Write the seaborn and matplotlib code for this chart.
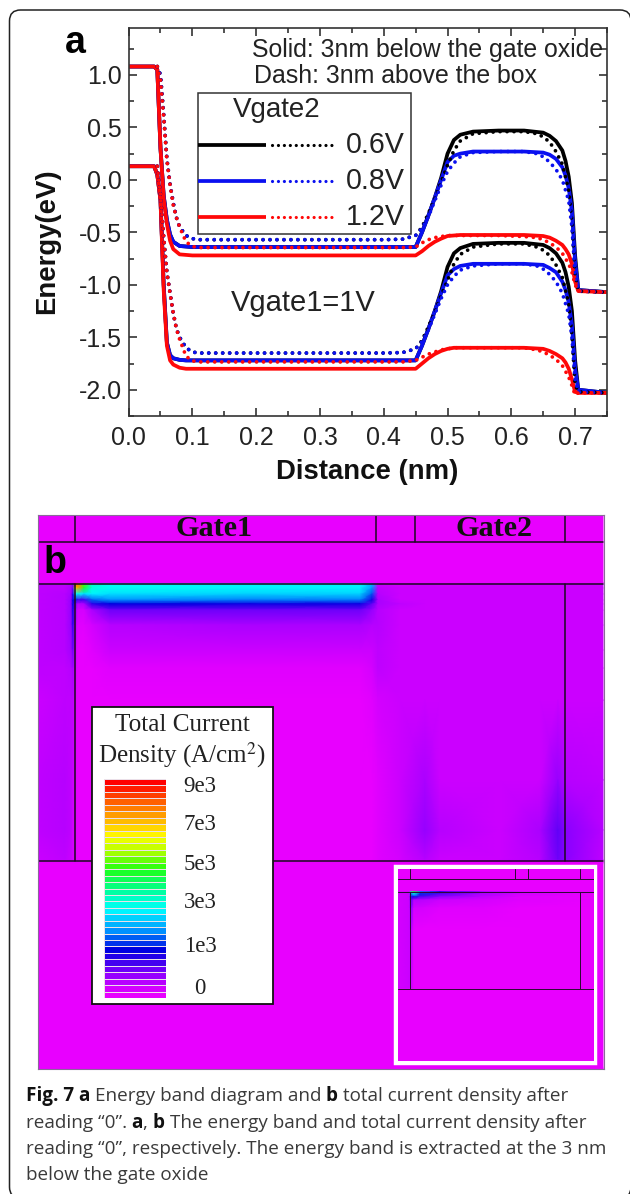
"""
plot.py - Energy band diagram and total current density (Fig. 7).
"""
import numpy as np
import matplotlib
matplotlib.use("Agg")
import matplotlib.pyplot as plt
from matplotlib.colors import LinearSegmentedColormap
from matplotlib.patches import FancyBboxPatch, Rectangle
from matplotlib.ticker import MultipleLocator
import seaborn as sns

W, H = 630, 1194

# panel a, solid curves
X_SOLID = [0, .04, .045, .05, .055, .06, .065, .07, .08, .09, .10, .2, .3, .4, .45, .46, .47, .48, .49, .50,
           .51, .52, .54, .58, .62, .65, .66, .67, .68, .685, .69, .695, .70, .705, .75]
UP_BLACK = [1.08, 1.08, 1.05, .3, -.15, -.38, -.52, -.59, -.63, -.635, -.64, -.64, -.64, -.64, -.64, -.5, -.34, -.17, .02, .25,
            .38, .43, .46, .47, .47, .45, .42, .37, .28, .18, .03, -.22, -.72, -1.05, -1.07]
UP_BLUE = [1.08, 1.08, 1.05, .3, -.15, -.38, -.52, -.59, -.63, -.635, -.64, -.64, -.64, -.64, -.64, -.5, -.34, -.17, 0, .17,
           .23, .25, .27, .27, .27, .26, .24, .2, .12, .04, -.08, -.3, -.78, -1.05, -1.07]
UP_RED = [1.08, 1.08, 1.05, .3, -.18, -.42, -.58, -.66, -.71, -.715, -.72, -.72, -.72, -.72, -.72, -.68, -.63, -.59, -.56, -.535,
          -.53, -.525, -.525, -.525, -.525, -.535, -.55, -.58, -.62, -.66, -.71, -.8, -.97, -1.06, -1.07]
LOW_BLACK = [.13, .13, .05, -.19, -1.0, -1.55, -1.67, -1.7, -1.715, -1.72, -1.72, -1.72, -1.72, -1.72, -1.72, -1.58, -1.42, -1.25, -1.06, -.83,
             -.7, -.65, -.61, -.6, -.6, -.62, -.65, -.7, -.79, -.88, -1.02, -1.25, -1.72, -2.0, -2.03]
LOW_BLUE = [.13, .13, .05, -.19, -1.0, -1.55, -1.67, -1.7, -1.715, -1.72, -1.72, -1.72, -1.72, -1.72, -1.72, -1.58, -1.42, -1.25, -1.08, -.91,
            -.85, -.82, -.8, -.8, -.8, -.81, -.84, -.88, -.97, -1.05, -1.17, -1.38, -1.8, -2.0, -2.03]
LOW_RED = [.13, .13, .05, -.2, -1.05, -1.58, -1.72, -1.76, -1.79, -1.8, -1.8, -1.8, -1.8, -1.8, -1.8, -1.75, -1.7, -1.66, -1.63, -1.61,
           -1.6, -1.6, -1.6, -1.6, -1.6, -1.61, -1.63, -1.66, -1.7, -1.74, -1.8, -1.9, -2.02, -2.03, -2.03]

# panel a, dotted curves
X_DOT = [.045, .05, .055, .06, .065, .07, .075, .08, .09, .10, .11, .2, .3, .4, .43, .45, .46, .47, .48, .49, .50,
         .51, .52, .54, .58, .62, .64, .65, .66, .67, .68, .69, .695, .70, .705, .75]
UP_BLACK_D = [1.08, 1.0, .62, .2, -.04, -.22, -.36, -.45, -.53, -.56, -.57, -.57, -.57, -.57, -.565, -.53, -.45, -.32, -.18, -.02, .14,
              .28, .37, .44, .46, .46, .44, .41, .36, .27, .15, -.1, -.4, -.9, -1.06, -1.07]
UP_BLUE_D = [1.08, 1.0, .62, .2, -.04, -.22, -.36, -.45, -.53, -.56, -.57, -.57, -.57, -.57, -.565, -.53, -.46, -.35, -.2, -.05, .08,
             .16, .22, .26, .27, .27, .25, .22, .17, .1, 0, -.2, -.45, -.9, -1.06, -1.07]
UP_RED_D = [1.08, .95, .6, .19, -.05, -.24, -.36, -.45, -.59, -.635, -.645, -.645, -.645, -.645, -.645, -.64, -.6, -.57, -.55, -.54, -.53,
            -.53, -.53, -.53, -.53, -.54, -.55, -.57, -.6, -.64, -.7, -.8, -.88, -1.0, -1.06, -1.07]
LOW_BLACK_D = [.13, -.15, -.55, -.88, -1.08, -1.27, -1.42, -1.5, -1.6, -1.64, -1.65, -1.65, -1.65, -1.65, -1.645, -1.61, -1.53, -1.4, -1.26, -1.1, -.96,
               -.8, -.71, -.64, -.61, -.61, -.64, -.67, -.72, -.81, -.93, -1.18, -1.48, -1.95, -2.02, -2.03]
LOW_BLUE_D = [.13, -.15, -.55, -.88, -1.08, -1.27, -1.42, -1.5, -1.6, -1.64, -1.65, -1.65, -1.65, -1.65, -1.645, -1.61, -1.54, -1.43, -1.28, -1.13, -1.0,
              -.92, -.86, -.82, -.8, -.8, -.82, -.85, -.9, -.97, -1.08, -1.28, -1.5, -1.9, -2.02, -2.03]
LOW_RED_D = [.13, -.15, -.55, -.88, -1.08, -1.27, -1.42, -1.52, -1.68, -1.725, -1.735, -1.735, -1.735, -1.735, -1.735, -1.72, -1.69, -1.66, -1.64, -1.62, -1.61,
             -1.6, -1.6, -1.6, -1.6, -1.6, -1.62, -1.64, -1.67, -1.71, -1.77, -1.88, -1.96, -2.05, -2.03, -2.03]

X_TICKS = [0, .1, .2, .3, .4, .5, .6, .7]
Y_TICKS = [-2, -1.5, -1, -.5, 0, .5, 1]
LEGEND_VOLTS = ["0.6V", "0.8V", "1.2V"]

# panel b, field on image-pixel grid, level 0-100 of the colour scale
FIELD_X = [38, 65, 71, 73, 75, 78, 84, 92, 110, 250, 360, 372, 378, 400, 425, 440, 500, 540, 558, 566, 603]
FIELD_Y = [515, 583, 584, 588, 594, 600, 604, 610, 625, 650, 668, 700, 780, 830, 860, 862, 1069]
FIELD = [
    [0, 0, 0, 0, 0, 0, 0, 0, 0, 0, 0, 0, 0, 0, 0, 0, 0, 0, 0, 0, 0],
    [0, 0, 0, 0, 0, 0, 0, 0, 0, 0, 0, 0, 0, 0, 0, 0, 0, 0, 0, 0, 0],
    [4, 4, 5, 10, 92, 88, 62, 46, 42, 40, 40, 34, 3, 2, 3, 2, 3, 3, 3, 3, 3],
    [4, 4, 6, 12, 70, 85, 58, 44, 42, 40, 40, 32, 4, 3, 3, 3, 3, 3, 3, 3, 3],
    [4, 5, 7, 18, 40, 42, 38, 40, 38, 37, 37, 27, 5, 3, 3, 3, 3, 3, 3, 3, 3],
    [4, 5, 8, 22, 24, 16, 16, 28, 31, 30, 30, 20, 6, 3, 3, 3, 3, 3, 3, 3, 3],
    [4, 5, 8, 22, 12, 5, 6, 18, 22, 21, 21, 13, 6, 4, 3, 3, 3, 3, 3, 3, 3],
    [4, 5, 8, 20, 8, 2, 2, 6, 12, 12, 12, 8, 5, 3, 3, 3, 3, 3, 3, 3, 3],
    [4, 5, 8, 18, 5, 1, 1, 2, 5, 6, 6, 5, 5, 3, 3, 3, 3, 3, 3, 3, 3],
    [4, 5, 7, 12, 3, 0, 0, 1, 3, 3, 3, 3, 4, 3, 3, 3, 3, 3, 3, 3, 3],
    [4, 4, 5, 7, 2, 0, 0, 0, 1, 1, 1, 2, 4, 3, 3, 3, 3, 3, 3, 3, 3],
    [3, 4, 4, 4, 1, 0, 0, 0, 0, 0, 0, 1, 2, 3, 3, 3, 3, 3, 3, 3, 3],
    [4, 5, 4, 3, 1, 0, 0, 0, 0, 0, 0, 0, 1, 3, 6, 3, 3, 3, 8, 5, 4],
    [4, 5, 4, 2, 1, 0, 0, 0, 0, 0, 0, 0, 1, 3, 8, 5, 3, 6, 13, 9, 5],
    [3, 4, 3, 2, 1, 0, 0, 0, 0, 0, 0, 0, 1, 2, 5, 3, 3, 5, 12, 9, 4],
    [0, 0, 0, 0, 0, 0, 0, 0, 0, 0, 0, 0, 0, 0, 0, 0, 0, 0, 0, 0, 0],
    [0, 0, 0, 0, 0, 0, 0, 0, 0, 0, 0, 0, 0, 0, 0, 0, 0, 0, 0, 0, 0],
]
INSET_X = [398, 409, 411, 414, 420, 440, 480, 520, 594]
INSET_Y = [869, 891, 892, 894, 897, 900, 908, 930, 988, 990, 1061]
INSET = [
    [0, 0, 0, 0, 0, 0, 0, 0, 0],
    [0, 0, 0, 0, 0, 0, 0, 0, 0],
    [2, 3, 50, 60, 30, 20, 8, 2, 0],
    [2, 3, 30, 40, 24, 14, 6, 2, 0],
    [2, 3, 18, 20, 14, 8, 4, 1, 0],
    [2, 3, 14, 5, 5, 3, 2, 1, 0],
    [2, 3, 10, 2, 2, 1, 1, 0, 0],
    [2, 3, 5, 0, 0, 0, 0, 0, 0],
    [2, 3, 3, 0, 0, 0, 0, 0, 0],
    [0, 0, 0, 0, 0, 0, 0, 0, 0],
    [0, 0, 0, 0, 0, 0, 0, 0, 0],
]

LEVELS = [100, 97, 94, 91, 88, 85, 82, 79, 76, 73, 70, 67, 64, 61, 58, 55, 52, 49, 46, 43, 40, 37, 34, 31, 28, 25, 22, 19, 16, 12, 8, 5, 2, 0]
BAR_LABELS = ["9e3", "7e3", "5e3", "3e3", "1e3", "0"]
BAR_LABEL_Y = [787, 825, 864, 902, 946, 989]

CAPTION = [
    [("Fig. 7 a ", True), ("Energy band diagram and ", False), ("b ", True), ("total current density after", False)],
    [("reading \u201c0\u201d. ", False), ("a", True), (", ", False), ("b ", True), ("The energy band and total current density after", False)],
    [("reading \u201c0\u201d, respectively. The energy band is extracted at the 3 nm", False)],
    [("below the gate oxide", False)],
]
CAPTION_Y = [1101, 1127.5, 1154, 1180.5]
CAPTION_SIZE = 13.6

sns.set_theme(style="ticks")
plt.rcParams["font.family"] = ["Liberation Sans", "DejaVu Sans"]
plt.rcParams["axes.unicode_minus"] = False

cmap = LinearSegmentedColormap.from_list("tcd", [
    (0, "#e800ff"), (.1, "#8000ff"), (.22, "#0000e0"), (.31, "#0090ff"), (.41, "#00ffff"), (.5, "#00ff99"),
    (.6, "#20ff10"), (.68, "#b0ff00"), (.75, "#ffff00"), (.88, "#ff8000"), (1, "#ff0000")])


def px_axes(fig, left, top, right, bottom, **kw):
    return fig.add_axes([left / W, 1 - bottom / H, (right - left) / W, (bottom - top) / H], **kw)


fig = plt.figure(figsize=(W / 100, H / 100), dpi=100, facecolor="white")

# overlay in image pixels, for texts and frames
ov = px_axes(fig, 0, 0, W, H, zorder=2)
ov.set_xlim(0, W)
ov.set_ylim(H, 0)
ov.axis("off")
ov.patch.set_alpha(0)

back = px_axes(fig, 0, 0, W, H, zorder=0)
back.set_xlim(0, W)
back.set_ylim(H, 0)
back.axis("off")
back.add_patch(FancyBboxPatch((9.5, 10), 621.5, 1188, boxstyle="round,pad=0,rounding_size=11", fc="white", ec="#222222", lw=1.1))

# panel a
ax = px_axes(fig, 128.6, 27.7, 607, 416, zorder=1)
curves = [(UP_BLACK, LOW_BLACK, UP_BLACK_D, LOW_BLACK_D, "#000000"),
          (UP_BLUE, LOW_BLUE, UP_BLUE_D, LOW_BLUE_D, "#0a10f0"),
          (UP_RED, LOW_RED, UP_RED_D, LOW_RED_D, "#ff0808")]
dots = (0, (0.01, 1.85))
for up, low, _, _, col in curves:
    for ys in (up, low):
        sns.lineplot(x=X_SOLID, y=ys, color=col, linewidth=2.7, sort=False, estimator=None, ax=ax)
for _, _, up_d, low_d, col in curves:
    for ys in (up_d, low_d):
        sns.lineplot(x=X_DOT, y=ys, color=col, linewidth=2.7, linestyle=dots, dash_capstyle="round",
                     sort=False, estimator=None, ax=ax)
ax.set_xlim(0, .75)
ax.set_ylim(-2.25, 1.45)
ax.set_xticks(X_TICKS)
ax.set_yticks(Y_TICKS)
ax.set_xticklabels([f"{v:.1f}" for v in X_TICKS])
ax.set_yticklabels([f"{v:.1f}" for v in Y_TICKS])
ax.xaxis.set_minor_locator(MultipleLocator(.05))
ax.yaxis.set_minor_locator(MultipleLocator(.25))
ax.tick_params(which="major", direction="in", top=True, right=True, length=6, width=1.1, color="#222222",
               labelsize=18, labelcolor="#222222")
ax.tick_params(which="minor", direction="in", top=True, right=True, length=3.5, width=1.1, color="#222222")
ax.tick_params(axis="x", which="major", pad=7)
ax.tick_params(axis="y", which="major", pad=5)
for sp in ax.spines.values():
    sp.set_linewidth(1.2)
    sp.set_color("#333333")

ov.text(75, 43, "a", fontsize=27, fontweight="bold", ha="center", va="center", color="black")
ov.text(47, 241, "Energy(eV)", fontsize=19.8, fontweight="bold", rotation=90, ha="center", va="center", color="#111111")
ov.text(367.6, 472, "Distance (nm)", fontsize=19.8, fontweight="bold", ha="center", va="center", color="#111111")
ov.text(252, 50, "Solid: 3nm below the gate oxide", fontsize=17.9, ha="left", va="center", color="#222222")
ov.text(254, 76, "Dash: 3nm above the box", fontsize=17.9, ha="left", va="center", color="#222222")
ov.text(231, 303, "Vgate1=1V", fontsize=21, ha="left", va="center", color="#222222")

# legend of panel a
ov.add_patch(Rectangle((197.7, 92.7), 213.3, 141.3, fc="white", ec="#333333", lw=1.1))
ov.text(233, 110, "Vgate2", fontsize=20, ha="left", va="center", color="#222222")
for (_, _, _, _, col), label, y in zip(curves, LEGEND_VOLTS, [145, 181, 217]):
    ov.plot([197.7, 266], [y, y], color=col, lw=2.7, solid_capstyle="butt")
    ov.plot([272, 334], [y, y], color=col, lw=2.3, linestyle=dots, dash_capstyle="round")
    ov.text(346, y, label, fontsize=20.6, ha="left", va="center", color="#222222")

# panel b
axb = px_axes(fig, 37.7, 515, 603.5, 1069, zorder=1)
axb.pcolormesh(FIELD_X, FIELD_Y, np.array(FIELD), shading="gouraud", cmap=cmap, vmin=0, vmax=100)
axb.set_xlim(37.7, 603.5)
axb.set_ylim(1069, 515)
axb.set_xticks([])
axb.set_yticks([])
for sp in axb.spines.values():
    sp.set_linewidth(.8)
    sp.set_color("#8a6a9a")
for x0, y0, x1, y1 in [(38, 542, 603, 542), (38, 584, 603, 584), (38, 861, 603, 861),
                       (75, 515, 75, 542), (376, 515, 376, 542), (415, 515, 415, 542), (565, 515, 565, 542),
                       (75, 584, 75, 861), (565, 584, 565, 861)]:
    axb.plot([x0, x1], [y0, y1], color="#1a0a20", lw=1.1)
ov.text(214, 529, "Gate1", fontsize=21.7, fontweight="bold", family="Liberation Serif", ha="center", va="center", color="#111111")
ov.text(494, 529, "Gate2", fontsize=21.7, fontweight="bold", family="Liberation Serif", ha="center", va="center", color="#111111")
ov.text(55, 563, "b", fontsize=27, fontweight="bold", ha="center", va="center", color="black")

# scale box
ov.add_patch(Rectangle((92, 707), 180.6, 297, fc="white", ec="#111111", lw=1.3))
ov.text(182, 725, "Total Current", fontsize=18.2, family="Liberation Serif", ha="center", va="center", color="#222222")
ov.text(182, 755, "Density (A/cm$^{2}$)", fontsize=18, family="Liberation Serif", math_fontfamily="stix", ha="center", va="center", color="#222222")
for lab, y in zip(BAR_LABELS, BAR_LABEL_Y):
    ov.text(200, y, lab, fontsize=16.5, family="Liberation Serif", ha="center", va="center", color="#222222")
axc = px_axes(fig, 104, 779, 166, 998, zorder=3)
sns.heatmap(np.array(LEVELS).reshape(-1, 1), cmap=cmap, vmin=0, vmax=100, cbar=False, linewidths=.7,
            linecolor="#eadfe8", xticklabels=False, yticklabels=False, ax=axc)

# inset
ov.add_patch(Rectangle((395.5, 867), 199.5, 196, fc="none", ec="white", lw=3.2))
axi = px_axes(fig, 398, 869, 594, 1061, zorder=3)
axi.pcolormesh(INSET_X, INSET_Y, np.array(INSET), shading="gouraud", cmap=cmap, vmin=0, vmax=100)
axi.set_xlim(398, 594)
axi.set_ylim(1061, 869)
axi.axis("off")
for x0, y0, x1, y1 in [(398, 879, 594, 879), (398, 892, 594, 892), (398, 989, 594, 989),
                       (410, 869, 410, 879), (515, 869, 515, 879), (528, 869, 528, 879), (580, 869, 580, 879),
                       (410, 892, 410, 989), (580, 892, 580, 989)]:
    axi.plot([x0, x1], [y0, y1], color="#2a0a30", lw=.7)

# caption, one run at a time because of the bold words
fig.canvas.draw()
rend = fig.canvas.get_renderer()


def run_width(s, bold):
    t1 = ov.text(0, 0, s + "|", fontsize=CAPTION_SIZE, family="Open Sans", fontweight="bold" if bold else "normal")
    t2 = ov.text(0, 0, "|", fontsize=CAPTION_SIZE, family="Open Sans", fontweight="bold" if bold else "normal")
    w = t1.get_window_extent(rend).width - t2.get_window_extent(rend).width
    t1.remove()
    t2.remove()
    return w


for runs, y in zip(CAPTION, CAPTION_Y):
    x = 25.7
    for s, bold in runs:
        ov.text(x, y, s, fontsize=CAPTION_SIZE, family="Open Sans", fontweight="bold" if bold else "normal",
                ha="left", va="baseline", color="#111111" if bold else "#3a3a3a")
        x += run_width(s, bold)

fig.savefig("out.png", dpi=100)
